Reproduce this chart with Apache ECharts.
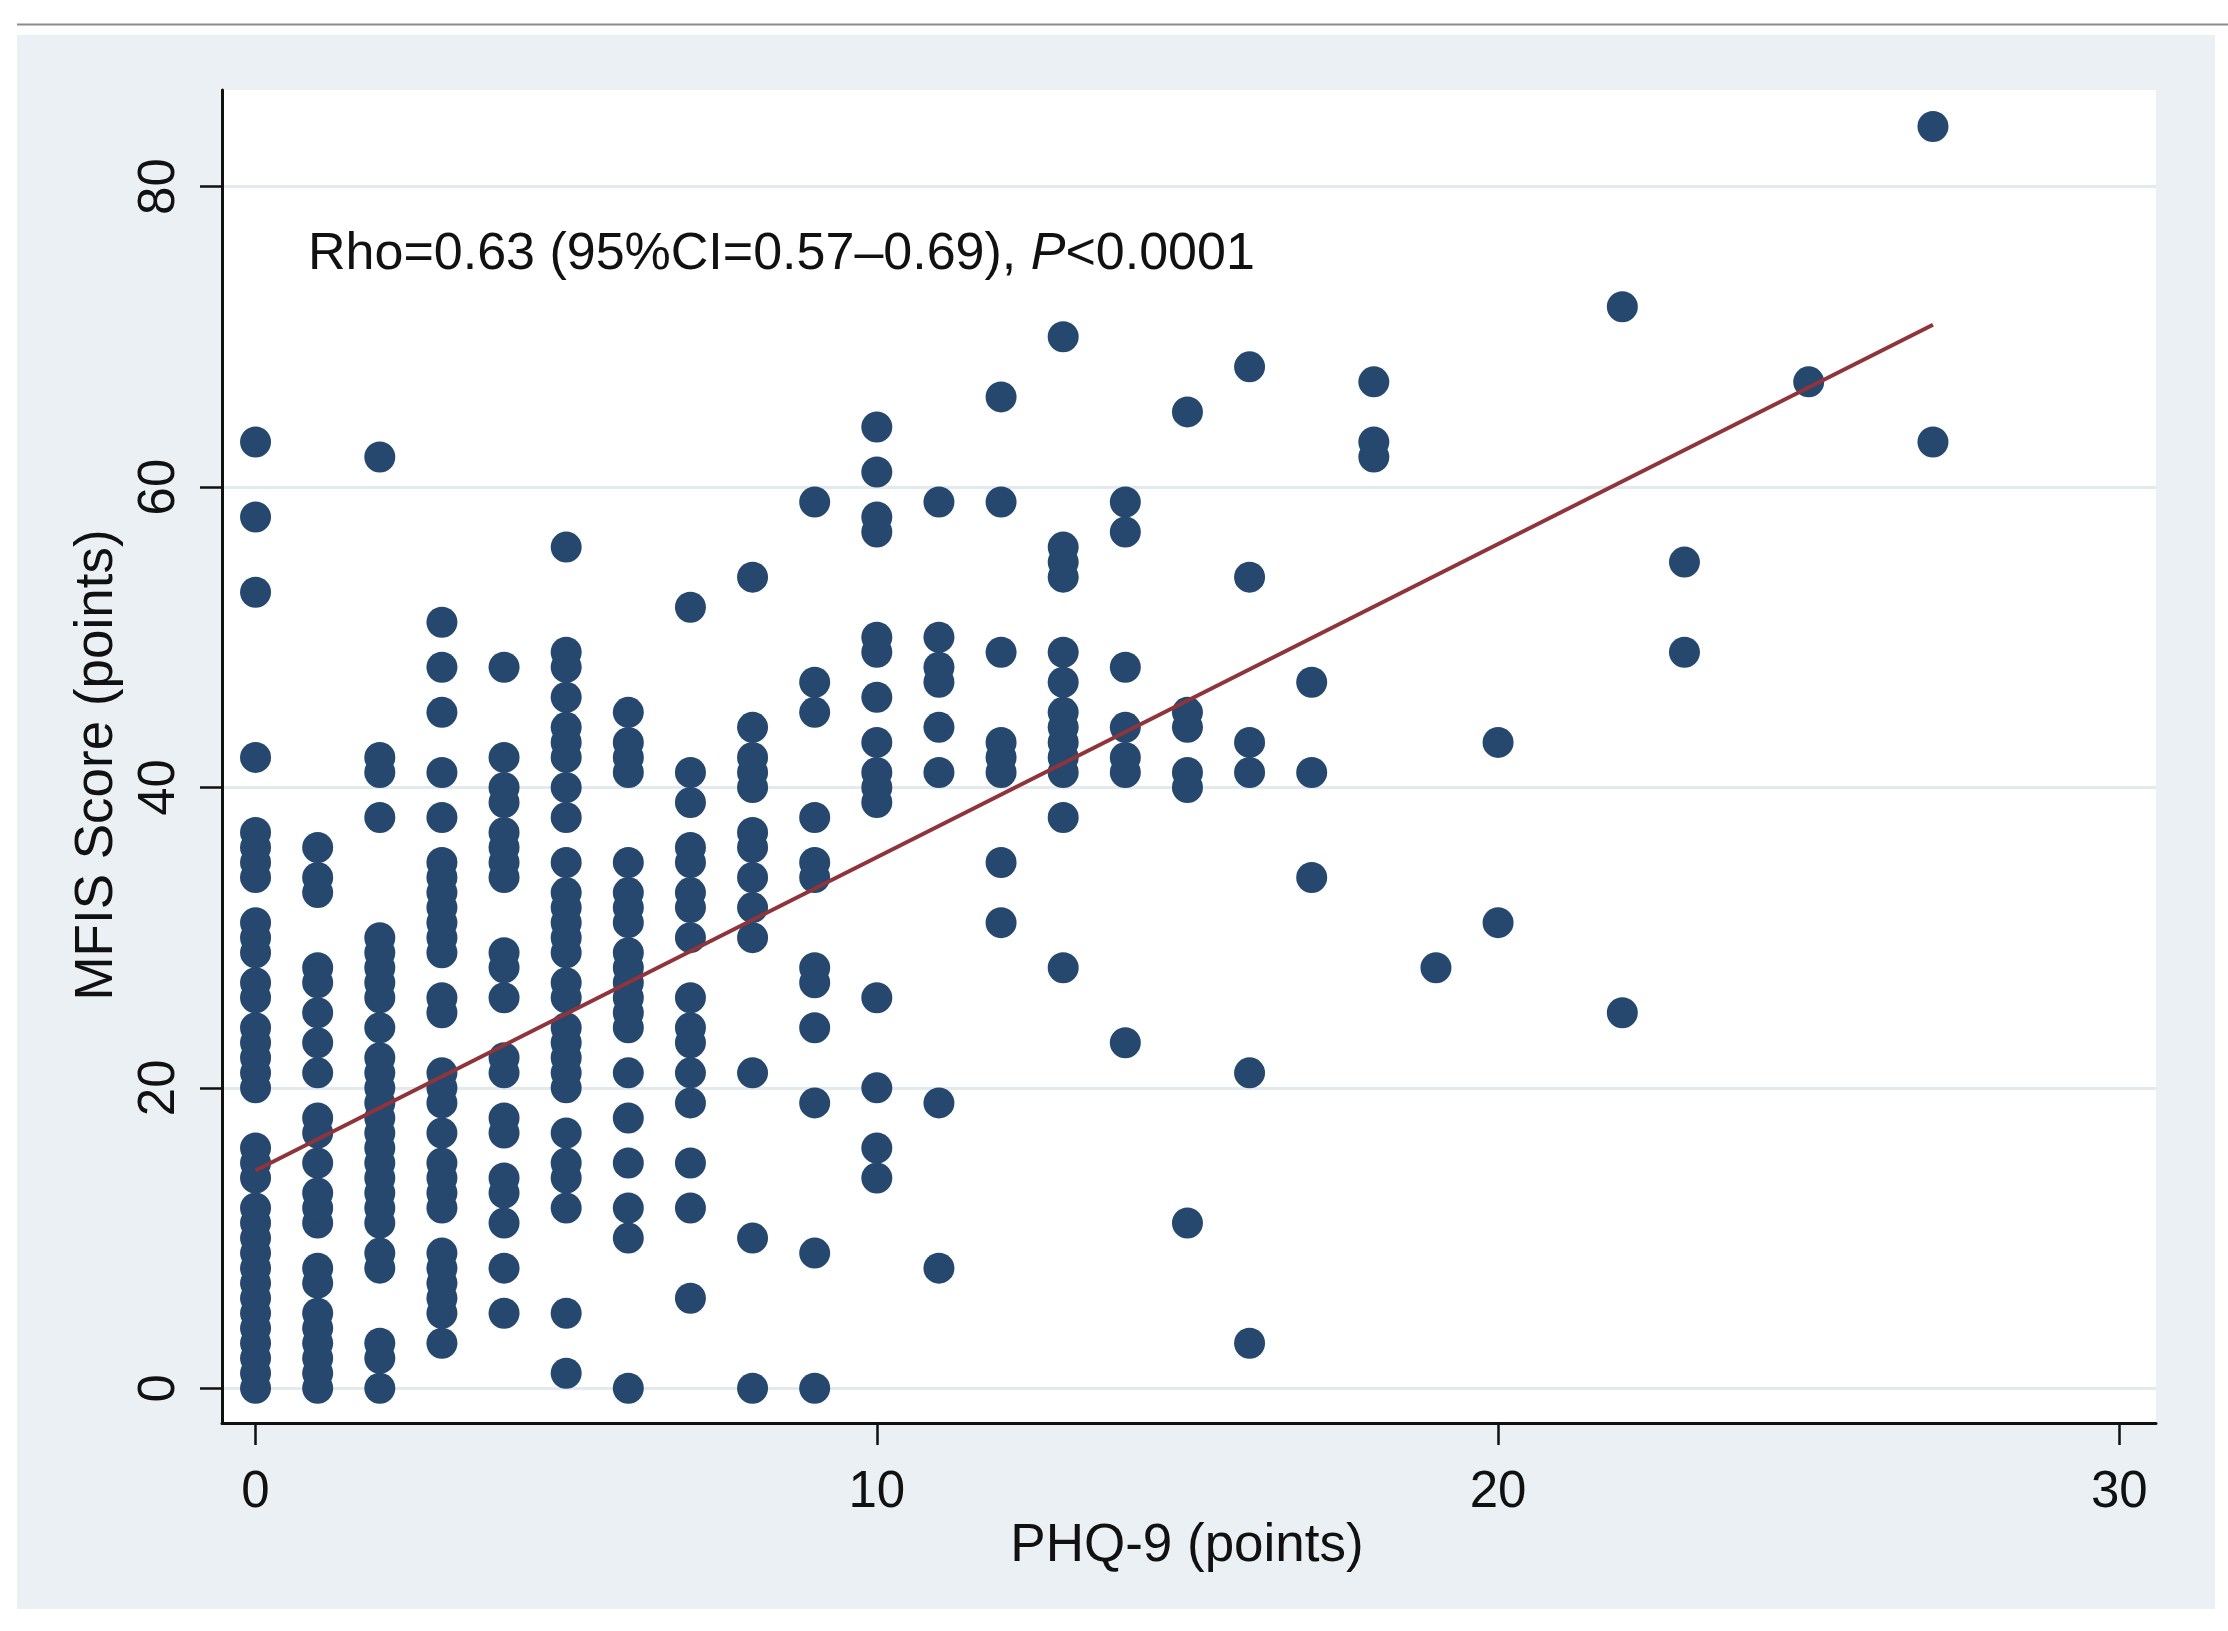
<!DOCTYPE html>
<html>
<head>
<meta charset="utf-8">
<script src="https://cdn.jsdelivr.net/npm/echarts@6/dist/echarts.min.js"></script>
<style>
  html, body { margin: 0; padding: 0; background: #ffffff; }
  #chart { width: 2228px; height: 1631px; }
</style>
</head>
<body>
<div id="chart"></div>
<script>
// PHQ-9 levels (x) and the MFIS scores observed at each level (y)
const phqLevels = [0, 1, 2, 3, 4, 5, 6, 7, 8, 9, 10, 11, 12, 13, 14, 15, 16, 17, 18, 19, 20, 22, 23, 25, 27];
const mfisByLevel = [
  [0,1,2,3,4,5,6,7,8,9,10,11,12,14,15,16,20,21,22,23,24,26,27,29,30,31,34,35,36,37,42,53,58,63],
  [0,1,2,3,4,5,7,8,11,12,13,15,17,18,21,23,25,27,28,33,34,36],
  [0,2,3,8,9,11,12,13,14,15,16,17,18,19,20,21,22,24,26,27,28,29,30,38,41,42,62],
  [3,5,6,7,8,9,12,13,14,15,17,19,20,21,25,26,29,30,31,32,33,34,35,38,41,45,48,51],
  [5,8,11,13,14,17,18,21,22,26,28,29,34,35,36,37,39,40,42,48],
  [1,5,12,14,15,17,20,21,22,23,24,26,27,29,30,31,32,33,35,38,40,42,43,44,46,48,49,56],
  [0,10,12,15,18,21,24,25,26,27,28,29,31,32,33,35,41,42,43,45],
  [6,12,15,19,21,23,24,26,30,32,33,35,36,39,41,52],
  [0,10,21,30,32,34,36,37,40,41,42,44,54],
  [0,9,19,24,27,28,34,35,38,45,47,59],
  [14,16,20,26,39,40,41,43,46,49,50,57,58,61,64],
  [8,19,41,44,47,48,50,59],
  [31,35,41,42,43,49,59,66],
  [28,38,41,42,43,44,45,47,49,54,55,56,70],
  [23,41,42,44,48,57,59],
  [11,40,41,44,45,65],
  [3,21,41,43,54,68],
  [34,41,47],
  [62,63,67],
  [28],
  [31,43],
  [25,72],
  [49,55],
  [67],
  [63,84]
];
// Fitted line end points
const fitX = [0, 27];
const fitY = [14.5, 70.8];
// Tick labels
const xTicks = [0, 10, 20, 30];
const yTicks = [0, 20, 40, 60, 80];

const scatterData = [];
phqLevels.forEach((x, i) => {
  mfisByLevel[i].forEach(y => scatterData.push([x, y]));
});
const fitData = fitX.map((x, i) => [x, fitY[i]]);

const FONT = '"Liberation Sans", Arial, Helvetica, sans-serif';
const chart = echarts.init(document.getElementById('chart'), null, { renderer: 'canvas' });

chart.setOption({
  backgroundColor: '#ffffff',
  animation: false,
  grid: {
    left: 222, top: 90, width: 1934, height: 1333,
    show: true, backgroundColor: '#ffffff', borderWidth: 0,
    containLabel: false
  },
  xAxis: {
    type: 'value',
    min: -0.54, max: 30.59,
    axisLine: { show: true, onZero: false, lineStyle: { color: '#111', width: 3 } },
    axisTick: { show: true, length: 22, customValues: xTicks, lineStyle: { color: '#111', width: 2.5 } },
    axisLabel: { customValues: xTicks, margin: 44, fontSize: 51, color: '#111', fontFamily: FONT },
    splitLine: { show: false }
  },
  yAxis: {
    type: 'value',
    min: -2.31, max: 86.43,
    axisLine: { show: true, onZero: false, lineStyle: { color: '#111', width: 3 } },
    axisTick: { show: true, length: 22, customValues: yTicks, lineStyle: { color: '#111', width: 2.5 } },
    axisLabel: { customValues: yTicks, rotate: 90, margin: 37, fontSize: 51, color: '#111', fontFamily: FONT },
    splitLine: { show: true, lineStyle: { color: '#e3eaee', width: 3 } }
  },
  graphic: [
    { type: 'rect', z: -100, silent: true, shape: { x: 17, y: 35, width: 2198, height: 1574 }, style: { fill: '#eaf0f3' } },
    { type: 'line', z: -100, silent: true, shape: { x1: 17, y1: 24.5, x2: 2228, y2: 24.5 }, style: { stroke: '#8c8c8c', lineWidth: 2 } },
    {
      type: 'text', x: 1187, y: 1546, z: 10,
      style: { text: 'PHQ-9 (points)', fontSize: 53, fontFamily: FONT, fill: '#111', align: 'center', verticalAlign: 'middle' }
    },
    {
      type: 'text', x: 97, y: 765, rotation: Math.PI / 2, z: 10,
      style: { text: 'MFIS Score (points)', fontSize: 53, fontFamily: FONT, fill: '#111', align: 'center', verticalAlign: 'middle' }
    },
    {
      type: 'text', x: 308, y: 255, z: 10,
      style: {
        text: '{n|Rho=0.63 (95%CI=0.57\u20130.69), }{i|P}{n|<0.0001}',
        align: 'left', verticalAlign: 'middle',
        rich: {
          n: { fontSize: 52, fontFamily: FONT, fill: '#111' },
          i: { fontSize: 52, fontFamily: FONT, fontStyle: 'italic', fill: '#111' }
        }
      }
    }
  ],
  series: [
    {
      type: 'scatter',
      data: scatterData,
      symbol: 'circle',
      symbolSize: 31,
      itemStyle: { color: '#26486f', opacity: 1 },
      z: 2
    },
    {
      type: 'line',
      data: fitData,
      showSymbol: false,
      symbol: 'none',
      lineStyle: { color: '#8f343a', width: 4 },
      z: 3
    }
  ]
});
</script>
</body>
</html>
